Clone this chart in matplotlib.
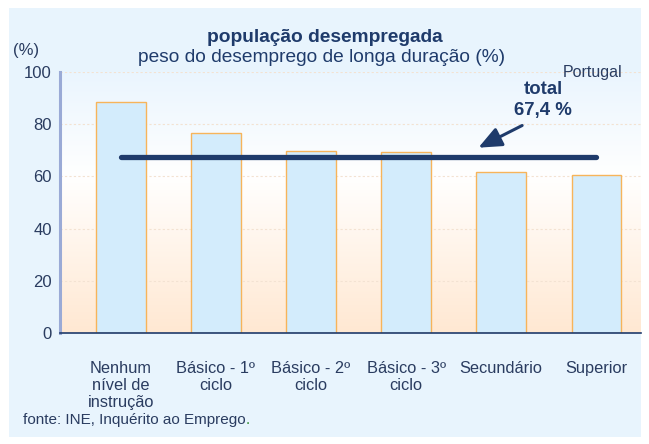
import numpy as np
import matplotlib.pyplot as plt
from matplotlib.patches import Rectangle

plt.rcParams["font.family"] = ["Liberation Sans", "DejaVu Sans"]

# data
categories = ["Nenhum\nnível de\ninstrução", "Básico - 1º\nciclo", "Básico - 2º\nciclo",
              "Básico - 3º\nciclo", "Secundário", "Superior"]
values = [88.5, 76.6, 69.7, 69.3, 61.7, 60.5]
total = 67.4
yticks = [0, 20, 40, 60, 80, 100]

navy = "#1F3B6B"
text_col = "#2A3C60"

fig = plt.figure(figsize=(6.49, 4.44), dpi=100, facecolor="white")
# light blue panel behind everything
fig.patches.append(Rectangle((9 / 649, 7 / 444), 632 / 649, 429 / 444,
                             transform=fig.transFigure, facecolor="#E8F4FD",
                             edgecolor="none", zorder=-10))

ax = fig.add_axes([60 / 649, 1 - 333 / 444, 581 / 649, 261 / 444])
ax.set_facecolor("none")
ax.set_zorder(1)

x = np.arange(len(categories))
ax.set_xlim(-0.64, 5.47)
ax.set_ylim(0, 100)

# vertical gradient: light blue at top, white around the middle, peach at bottom
t = np.linspace(0, 1, 256)
r = np.interp(t, [0, 0.4, 1], [234, 255, 255])
g = np.interp(t, [0, 0.4, 1], [245, 255, 232])
b = np.interp(t, [0, 0.4, 1], [254, 255, 210])
grad = np.stack([r, g, b], axis=1) / 255
ax.imshow(grad[:, None, :], extent=[-0.64, 5.47, 0, 100], aspect="auto",
          origin="upper", zorder=0)

for yv in [20, 40, 60, 80, 100]:
    ax.axhline(yv, color="#F3E2D2", lw=0.8, ls=(0, (2, 2)), zorder=1)

ax.bar(x, values, width=0.52, color="#D3ECFC", edgecolor="#F7B45A",
       linewidth=1.0, zorder=2)

ax.plot([x[0], x[-1]], [total, total], color=navy, lw=3.8,
        solid_capstyle="round", zorder=3)

ax.annotate("", xy=(3.76, 71.0), xytext=(4.22, 79.5),
            arrowprops=dict(arrowstyle="-|>,head_length=1.4,head_width=0.6",
                            color=navy, lw=2.2, shrinkA=0, shrinkB=0), zorder=4)
ax.text(4.44, 93.3, "total", ha="center", va="center", fontsize=13.4,
        fontweight="bold", color=navy)
ax.text(4.44, 85.3, "67,4 %", ha="center", va="center", fontsize=13.4,
        fontweight="bold", color=navy)
ax.text(5.27, 100, "Portugal", ha="right", va="center", fontsize=11.5,
        color=text_col)

for s in ["top", "right"]:
    ax.spines[s].set_visible(False)
ax.spines["left"].set_color("#9AAAD6")
ax.spines["left"].set_linewidth(2.2)
ax.spines["bottom"].set_color(navy)
ax.spines["bottom"].set_linewidth(1.2)

ax.set_yticks(yticks)
ax.set_xticks(x)
ax.set_xticklabels(categories, linespacing=1.15)
ax.tick_params(axis="y", length=0, pad=6, labelsize=12, labelcolor=text_col)
ax.tick_params(axis="x", length=0, pad=20.5, labelsize=11.8, labelcolor=text_col)
for lab in ax.get_xticklabels():
    lab.set_va("top")

fig.text(325 / 649, 1 - 38 / 444, "população desempregada", ha="center",
         va="center", fontsize=13.8, fontweight="bold", color=navy)
fig.text(322 / 649, 1 - 58 / 444, "peso do desemprego de longa duração (%)",
         ha="center", va="center", fontsize=13.8, color=navy)
fig.text(26 / 649, 1 - 51 / 444, "(%)", ha="center", va="center",
         fontsize=12, color=text_col)

# source line; its final full stop is green in the original
src_y = 1 - 424 / 444
src = fig.text(23 / 649, src_y, "fonte: INE, Inquérito ao Emprego",
               ha="left", va="baseline", fontsize=11, color=text_col)
fig.canvas.draw()
bb = src.get_window_extent()
fig.text(bb.x1 / fig.bbox.width, src_y, ".", ha="left", va="baseline",
         fontsize=11, color="#2E8B2E")

fig.savefig("out.png", dpi=100, facecolor="white")
